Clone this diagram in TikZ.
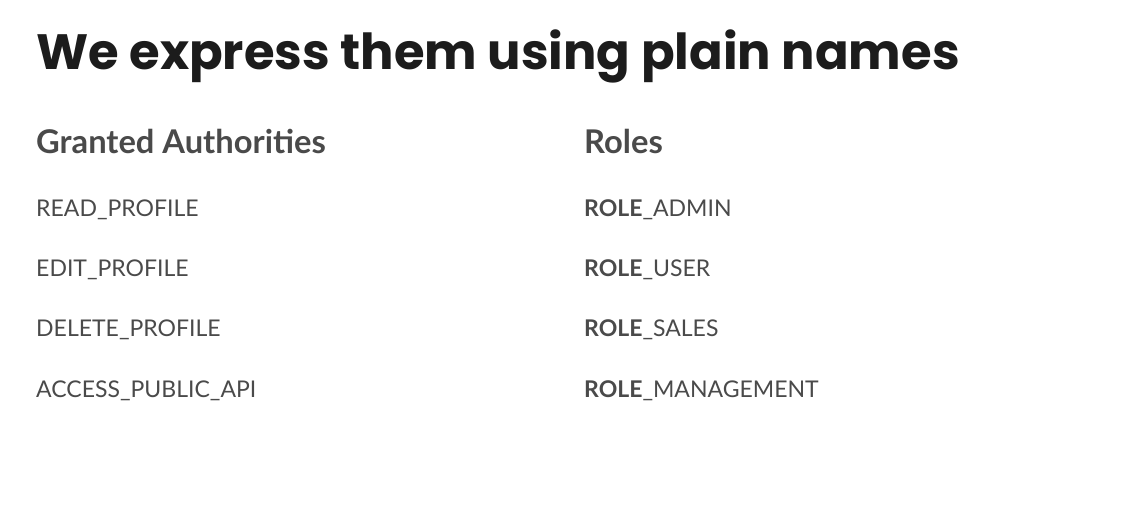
\documentclass[tikz,border=0pt]{standalone}
\usepackage{fontspec}
\setmainfont{Lato}
\newfontfamily\titlefont{Poppins}
\definecolor{titlegray}{HTML}{1C1C1C}
\definecolor{textgray}{HTML}{4A4A4A}
\tikzset{
  title/.style={anchor=base west,inner sep=0pt,text=titlegray,font=\titlefont\fontsize{49.8}{60}\selectfont\bfseries},
  head/.style={anchor=base west,inner sep=0pt,text=textgray,font=\fontsize{32.8}{40}\selectfont\bfseries},
  item/.style={anchor=base west,inner sep=0pt,text=textgray,font=\fontsize{23.1}{28}\selectfont}
}
\begin{document}
\begin{tikzpicture}[x=1bp,y=-1bp]
\useasboundingbox[fill=white] (0,0) rectangle (1145,505);
\node[title] (title) at (36,70) {We express them using plain names};
\node[head] (authhead) at (36,154) {Granted Authorities};
\node[head] (rolehead) at (584,154) {Roles};
\foreach \name [count=\i] in {READ\_PROFILE,EDIT\_PROFILE,DELETE\_PROFILE,ACCESS\_PUBLIC\_API}
  \node[item] (auth\i) at (36,157+60*\i) {\name};
\foreach \name [count=\i] in {ADMIN,USER,SALES,MANAGEMENT}
  \node[item] (role\i) at (584,157+60*\i) {\textbf{ROLE}\_\name};
\end{tikzpicture}
\end{document}
